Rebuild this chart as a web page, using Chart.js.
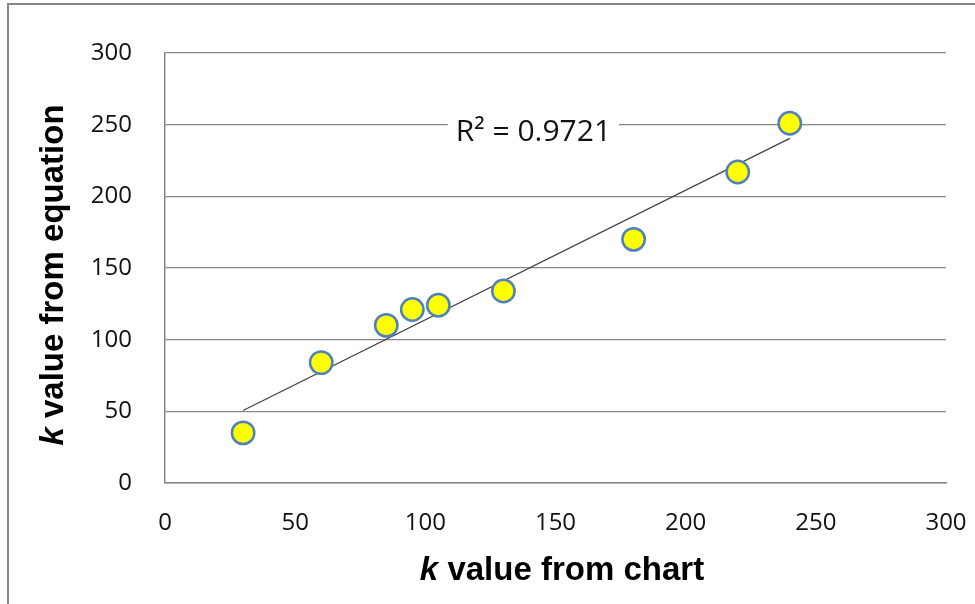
<!DOCTYPE html>
<html><head><meta charset="utf-8">
<script src="https://cdn.jsdelivr.net/npm/chart.js@4/dist/chart.umd.min.js"></script>
<style>html,body{margin:0;padding:0;background:#fff}#wrap{width:975px;height:604px}</style>
</head><body><div id="wrap"><canvas id="c" width="975" height="604"></canvas></div>
<script>
const kChart = [30, 60, 85, 95, 105, 130, 180, 220, 240];
const kEquation = [35, 84, 110, 121, 124, 134, 170, 217, 251];
const axisTicks = [0, 50, 100, 150, 200, 250, 300];
const r2Label = 'R² = 0.9721';
const xTitle = ['k', ' value from chart'];
const yTitle = ['k', ' value from equation'];

// least-squares linear trendline over the data
const n = kChart.length;
const mx = kChart.reduce((a,b)=>a+b,0)/n, my = kEquation.reduce((a,b)=>a+b,0)/n;
let sxy=0, sxx=0;
for (let i=0;i<n;i++){ sxy+=(kChart[i]-mx)*(kEquation[i]-my); sxx+=(kChart[i]-mx)**2; }
const slope = sxy/sxx, icpt = my - slope*mx;
const xMin = Math.min(...kChart), xMax = Math.max(...kChart);
const trend = [{x:xMin,y:icpt+slope*xMin},{x:xMax,y:icpt+slope*xMax}];

const FONT = "'Open Sans', 'Liberation Sans', sans-serif";
const TFONT = "'Liberation Sans', Arial, sans-serif";

const deco = {
  id:'deco',
  beforeDraw(chart){
    const c = chart.ctx;
    c.save();
    c.fillStyle='#fff'; c.fillRect(0,0,chart.width,chart.height);
    c.strokeStyle='#868686'; c.lineWidth=2;
    c.beginPath(); c.moveTo(8,605); c.lineTo(8,4); c.lineTo(980,4); c.stroke();
    c.restore();
  },
  afterDraw(chart){
    const c = chart.ctx;
    const xs = chart.scales.x, ys = chart.scales.y;
    c.save();
    // R2 label with white background
    c.font = "30px " + FONT;
    c.textBaseline='middle'; c.textAlign='center';
    const lx = xs.getPixelForValue(141.5), ly = ys.getPixelForValue(244.5);
    const w = c.measureText(r2Label).width;
    c.fillStyle='#fff'; c.fillRect(lx-w/2-8, ly-16, w+16, 32);
    c.fillStyle='#111'; c.fillText(r2Label, lx, ly);
    // axis titles with italic k
    function drawTitle(parts, cx, cy, rot){
      c.save(); c.translate(cx,cy); c.rotate(rot);
      const f1 = "italic bold 33px " + TFONT, f2 = "bold 33px " + TFONT;
      c.font=f1; const w1=c.measureText(parts[0]).width;
      c.font=f2; const w2=c.measureText(parts[1]).width;
      let x0 = -(w1+w2)/2;
      c.textAlign='left'; c.textBaseline='middle'; c.fillStyle='#000';
      c.font=f1; c.fillText(parts[0], x0, 0);
      c.font=f2; c.fillText(parts[1], x0+w1, 0);
      c.restore();
    }
    drawTitle(xTitle, 562, 571, 0);
    drawTitle(yTitle, 54, 275, -Math.PI/2);
    c.restore();
  }
};

new Chart(document.getElementById('c'), {
  type:'scatter',
  data:{ datasets:[
    { type:'scatter', label:'points', data:kChart.map((x,i)=>({x, y:kEquation[i]})),
      backgroundColor:'#FFFF00', borderColor:'#4F81BD', borderWidth:2.5, pointRadius:11.2, pointHoverRadius:11.2, order:1 },
    { type:'line', label:'trend', data:trend, borderColor:'#404040', borderWidth:1.2, pointRadius:0, fill:false, order:2 }
  ]},
  options:{
    responsive:false, animation:false, devicePixelRatio:1,
    layout:{ padding:{ left:8, right:29, top:53, bottom:0 } },
    plugins:{ legend:{display:false}, tooltip:{enabled:false} },
    scales:{
      x:{ type:'linear', min:0, max:300, afterBuildTicks(s){ s.ticks = axisTicks.map(v=>({value:v})); },
        afterFit(s){ s.height = 121; s.paddingLeft = 0; s.paddingRight = 0; },
        grid:{ display:false, drawTicks:false },
        border:{ display:true, color:'#868686', width:1.5 },
        ticks:{ padding:26, color:'#111', font:{ family:FONT, size:24 } } },
      y:{ type:'linear', min:0, max:300, afterBuildTicks(s){ s.ticks = axisTicks.map(v=>({value:v})); },
        afterFit(s){ s.width = 157; s.paddingTop = 0; s.paddingBottom = 0; },
        grid:{ color:'#868686', lineWidth:1.2, drawTicks:false },
        border:{ display:true, color:'#868686', width:1.5 },
        ticks:{ padding:33, color:'#111', font:{ family:FONT, size:24 } } }
    }
  },
  plugins:[deco]
});
</script></body></html>
